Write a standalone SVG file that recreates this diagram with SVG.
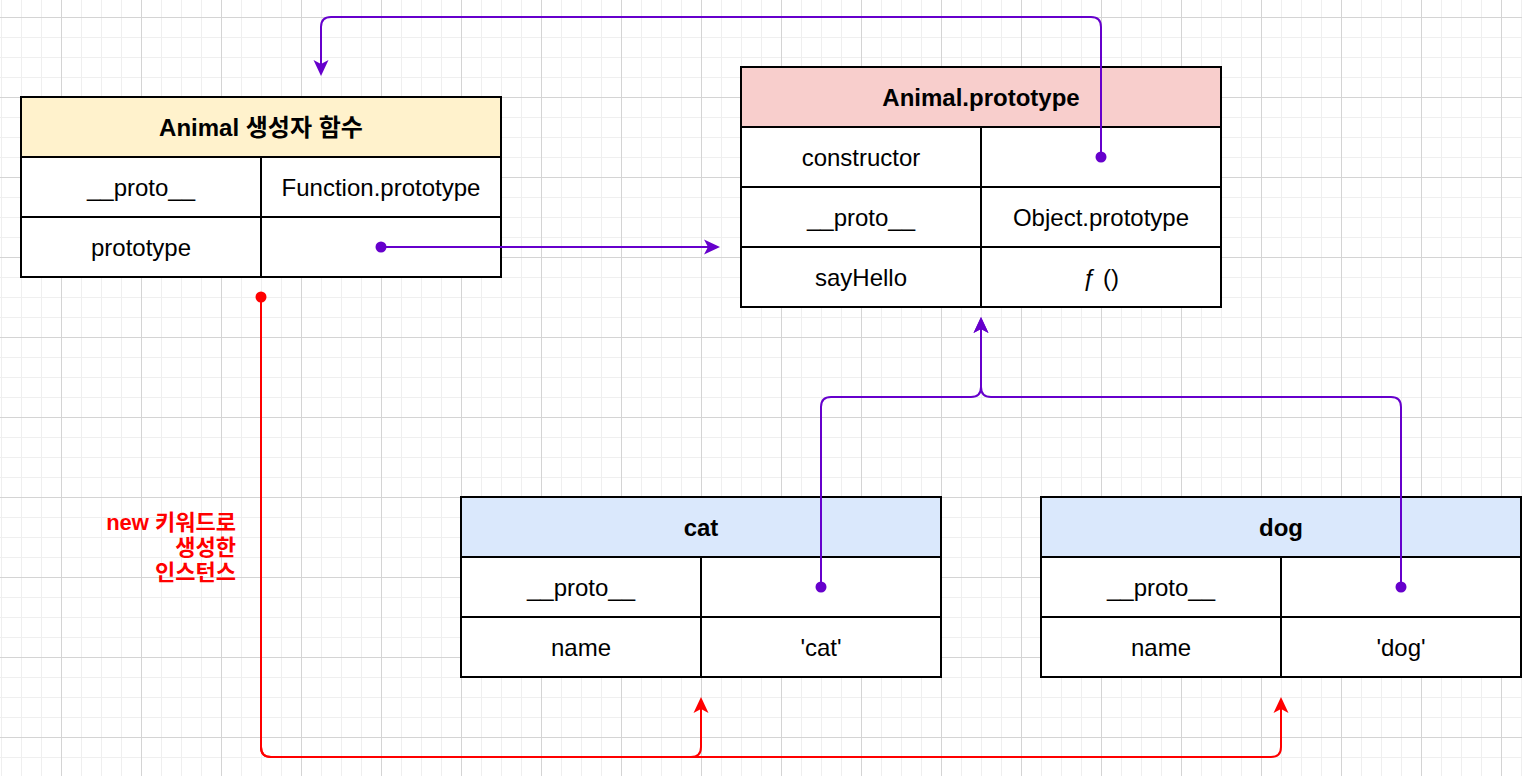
<svg xmlns="http://www.w3.org/2000/svg" width="1522" height="776" viewBox="0 0 1522 776">
<defs>
<pattern id="minor" patternUnits="userSpaceOnUse" x="1" y="17" width="20" height="20">
<path d="M0.5 0 V20 M0 0.5 H20" stroke="#efefef" stroke-width="1" fill="none"/>
</pattern>
<pattern id="major" patternUnits="userSpaceOnUse" x="61" y="17" width="80" height="80">
<path d="M0.5 0 V80 M0 0.5 H80" stroke="#d4d4d4" stroke-width="1" fill="none"/>
</pattern>
<marker id="ap" viewBox="-8 -9 20 18" refX="0" refY="0" markerWidth="20" markerHeight="18" markerUnits="userSpaceOnUse" orient="auto">
<path d="M10,0 L-6,-7.5 L-2,0 L-6,7.5 Z" fill="#6600cc"/>
</marker>
<marker id="ar" viewBox="-8 -9 20 18" refX="0" refY="0" markerWidth="20" markerHeight="18" markerUnits="userSpaceOnUse" orient="auto">
<path d="M10,0 L-6,-7.5 L-2,0 L-6,7.5 Z" fill="#ff0000"/>
</marker>
</defs>
<style>
.box{stroke:#000;stroke-width:2;fill:#fff}
.ln{stroke:#000;stroke-width:2;fill:none}
.t{font-family:"Liberation Sans","Noto Sans CJK KR",sans-serif;font-size:24px;text-anchor:middle;fill:#000}
.h{font-weight:bold}
.cp{stroke:#6600cc;stroke-width:2;fill:none}
.cr{stroke:#ff0000;stroke-width:2;fill:none}
.lbl{font-family:"Liberation Sans","Noto Sans CJK KR",sans-serif;font-size:22px;font-weight:bold;fill:#ff0000;text-anchor:end}
</style>
<rect width="1522" height="776" fill="#fff"/>
<rect width="1522" height="776" fill="url(#minor)"/>
<rect width="1522" height="776" fill="url(#major)"/>

<g id="animal-constructor">
<rect class="box" x="21" y="97" width="480" height="180"/>
<rect x="21" y="97" width="480" height="60" fill="#fff2cc" stroke="#000" stroke-width="2"/>
<path class="ln" d="M21 217 H501 M261 157 V277"/>
<text class="t h" x="261" y="135.5">Animal 생성자 함수</text>
<text class="t" x="141" y="195.5">__proto__</text>
<text class="t" x="381" y="195.5">Function.prototype</text>
<text class="t" x="141" y="255.5">prototype</text>
</g>

<g id="animal-prototype">
<rect class="box" x="741" y="67" width="480" height="240"/>
<rect x="741" y="67" width="480" height="60" fill="#f8cecc" stroke="#000" stroke-width="2"/>
<path class="ln" d="M741 187 H1221 M741 247 H1221 M981 127 V307"/>
<text class="t h" x="981" y="105.5">Animal.prototype</text>
<text class="t" x="861" y="165.5">constructor</text>
<text class="t" x="861" y="225.5">__proto__</text>
<text class="t" x="1101" y="225.5">Object.prototype</text>
<text class="t" x="861" y="285.5">sayHello</text>
<text class="t" x="1101" y="285.5">ƒ ()</text>
</g>

<g id="cat">
<rect class="box" x="461" y="497" width="480" height="180"/>
<rect x="461" y="497" width="480" height="60" fill="#dae8fc" stroke="#000" stroke-width="2"/>
<path class="ln" d="M461 617 H941 M701 557 V677"/>
<text class="t h" x="701" y="535.5">cat</text>
<text class="t" x="581" y="595.5">__proto__</text>
<text class="t" x="581" y="655.5">name</text>
<text class="t" x="821" y="655.5">'cat'</text>
</g>

<g id="dog">
<rect class="box" x="1041" y="497" width="480" height="180"/>
<rect x="1041" y="497" width="480" height="60" fill="#dae8fc" stroke="#000" stroke-width="2"/>
<path class="ln" d="M1041 617 H1521 M1281 557 V677"/>
<text class="t h" x="1281" y="535.5">dog</text>
<text class="t" x="1161" y="595.5">__proto__</text>
<text class="t" x="1161" y="655.5">name</text>
<text class="t" x="1401" y="655.5">'dog'</text>
</g>

<g id="connectors">
<path class="cp" d="M381 247 H710" marker-end="url(#ap)"/>
<circle cx="381" cy="247" r="5.5" fill="#6600cc"/>
<path class="cp" d="M1101 157 V27 Q1101 17 1091 17 H331 Q321 17 321 27 V66" marker-end="url(#ap)"/>
<circle cx="1101" cy="157" r="5.5" fill="#6600cc"/>
<path class="cp" d="M821 587 V407 Q821 397 831 397 H971 Q981 397 981 387 V327" marker-end="url(#ap)"/>
<circle cx="821" cy="587" r="5.5" fill="#6600cc"/>
<path class="cp" d="M1401 587 V407 Q1401 397 1391 397 H991 Q981 397 981 387 V327" marker-end="url(#ap)"/>
<circle cx="1401" cy="587" r="5.5" fill="#6600cc"/>
<path class="cr" d="M261 297 V747 Q261 757 271 757 H691 Q701 757 701 747 V707" marker-end="url(#ar)"/>
<path class="cr" d="M261 297 V747 Q261 757 271 757 H1271 Q1281 757 1281 747 V707" marker-end="url(#ar)"/>
<circle cx="261" cy="297" r="5.5" fill="#ff0000"/>
<text class="lbl" x="236" y="529.5">new 키워드로</text>
<text class="lbl" x="236" y="554.5">생성한</text>
<text class="lbl" x="236" y="579.5">인스턴스</text>
</g>
</svg>
